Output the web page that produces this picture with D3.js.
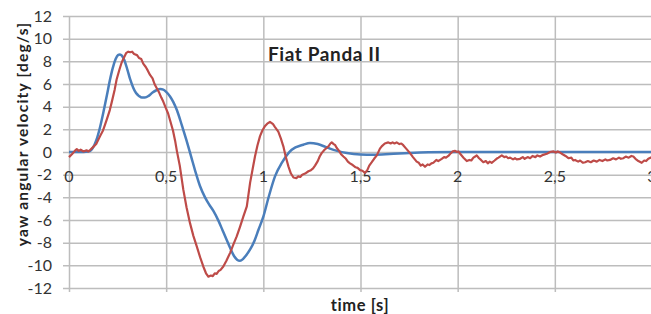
<!DOCTYPE html>
<html>
<head>
<meta charset="utf-8">
<script src="https://cdn.jsdelivr.net/npm/d3@7"></script>
<style>
  body { margin: 0; background: #fff; }
  svg { display: block; font-family: Lato, "Open Sans", sans-serif; }
</style>
</head>
<body>
<script>
// chart values
var title = "Fiat Panda II";
var xTicks = [0, 0.5, 1, 1.5, 2, 2.5, 3];
var yTicks = [-12, -10, -8, -6, -4, -2, 0, 2, 4, 6, 8, 10, 12];

// simulated yaw rate (blue)
var simTime = [0, 0.05, 0.1, 0.118, 0.13, 0.142, 0.16, 0.177, 0.195, 0.21, 0.225, 0.24, 0.252, 0.262, 0.272, 0.285,
  0.3, 0.315, 0.33, 0.345, 0.36, 0.375, 0.391, 0.41, 0.43, 0.45, 0.47, 0.485, 0.5, 0.52, 0.537, 0.555, 0.58, 0.605,
  0.63, 0.65, 0.674, 0.7, 0.72, 0.743, 0.77, 0.79, 0.81, 0.83, 0.85, 0.865, 0.88, 0.895, 0.91, 0.932, 0.955, 0.975,
  1.0, 1.026, 1.06, 1.095, 1.146, 1.206, 1.24, 1.28, 1.32, 1.343, 1.38, 1.43, 1.5, 1.566, 1.65, 1.75, 1.85, 2.0, 3.0];
var simYaw = [0, 0, 0.05, 0.25, 0.6, 1.1, 2.2, 3.5, 5.0, 6.3, 7.4, 8.2, 8.55, 8.6, 8.5, 8.1,
  7.3, 6.4, 5.7, 5.2, 4.95, 4.8, 4.8, 4.95, 5.25, 5.45, 5.55, 5.5, 5.3, 4.9, 4.4, 3.7, 2.4, 1.0,
  -0.5, -1.7, -3.0, -4.0, -4.6, -5.2, -6.1, -6.9, -7.7, -8.5, -9.2, -9.5, -9.6, -9.45, -9.15, -8.6, -7.8, -6.86,
  -5.7, -4.06, -2.15, -0.97, 0.2, 0.64, 0.8, 0.7, 0.45, 0.3, 0.1, -0.09, -0.22, -0.24, -0.18, -0.08, -0.02, 0, 0];

// measured yaw rate (red)
var measTime = [0, 0.015, 0.03, 0.04, 0.05, 0.06, 0.075, 0.09, 0.1, 0.11, 0.125, 0.14, 0.16, 0.175, 0.185, 0.195,
  0.21, 0.22, 0.235, 0.245, 0.26, 0.271, 0.285, 0.295, 0.305, 0.315, 0.325, 0.335, 0.35, 0.36, 0.372, 0.382, 0.395,
  0.405, 0.417, 0.43, 0.44, 0.451, 0.465, 0.475, 0.485, 0.5, 0.51, 0.52, 0.535, 0.546, 0.555, 0.57, 0.588, 0.605,
  0.623, 0.64, 0.657, 0.675, 0.691, 0.705, 0.717, 0.73, 0.74, 0.75, 0.76, 0.77, 0.78, 0.794, 0.81, 0.829, 0.845,
  0.863, 0.88, 0.897, 0.915, 0.932, 0.945, 0.957, 0.97, 0.983, 0.995, 1.009, 1.02, 1.034, 1.05, 1.06, 1.077, 1.09,
  1.103, 1.115, 1.129, 1.142, 1.155, 1.17, 1.18, 1.19, 1.2, 1.215, 1.232, 1.245, 1.256, 1.266, 1.28, 1.29, 1.3,
  1.315, 1.335, 1.345, 1.352, 1.362, 1.37, 1.378, 1.39, 1.4, 1.412, 1.425, 1.435, 1.446, 1.46, 1.475, 1.485, 1.498,
  1.51, 1.523, 1.535, 1.545, 1.558, 1.57, 1.584, 1.6, 1.609, 1.625, 1.643, 1.655, 1.665, 1.675, 1.686, 1.7, 1.71,
  1.72, 1.735, 1.745, 1.755, 1.77, 1.789, 1.8, 1.81, 1.82, 1.832, 1.845, 1.855, 1.865, 1.875, 1.89, 1.9, 1.918,
  1.93, 1.94, 1.952, 1.965, 1.975, 1.987, 1.995, 2.004, 2.015, 2.03, 2.047, 2.06, 2.07, 2.081, 2.09, 2.098, 2.11,
  2.12, 2.132, 2.145, 2.155, 2.165, 2.175, 2.19, 2.2, 2.21, 2.227, 2.24, 2.25, 2.26, 2.27, 2.285, 2.295, 2.304,
  2.321, 2.335, 2.345, 2.36, 2.373, 2.385, 2.4, 2.41, 2.424, 2.44, 2.459, 2.475, 2.493, 2.505, 2.515, 2.527, 2.54,
  2.555, 2.57, 2.585, 2.595, 2.604, 2.62, 2.63, 2.645, 2.656, 2.67, 2.685, 2.7, 2.716, 2.73, 2.745, 2.76, 2.77,
  2.784, 2.8, 2.815, 2.83, 2.84, 2.853, 2.865, 2.88, 2.894, 2.904, 2.915, 2.93, 2.947, 2.96, 2.97, 2.981, 3.0];
var measYaw = [-0.45, -0.2, 0.1, 0.25, 0.1, 0.2, 0.05, 0.15, 0.05, 0.2, 0.45, 0.7, 1.4, 1.9, 2.4, 2.9,
  3.7, 4.4, 5.5, 6.4, 7.3, 7.9, 8.4, 8.75, 8.85, 8.8, 8.85, 8.65, 8.55, 8.3, 8.2, 7.8, 7.5,
  7.2, 6.8, 6.5, 6.0, 5.65, 5.2, 4.8, 4.45, 3.8, 3.4, 2.8, 1.9, 1.0, 0.1, -1.2, -3.3, -4.9,
  -6.3, -7.4, -8.3, -9.3, -10.1, -10.7, -11.0, -10.9, -10.95, -10.7, -10.75, -10.5, -10.4, -10.1, -9.6, -8.9, -8.2,
  -7.45, -6.6, -5.7, -4.8, -2.7, -1.5, -0.4, 0.6, 1.4, 1.9, 2.3, 2.5, 2.65, 2.45, 2.2, 1.8, 1.2,
  0.5, -0.4, -1.27, -1.9, -2.25, -2.3, -2.15, -2.2, -2.0, -1.9, -1.7, -1.6, -1.45, -1.2, -0.8, -0.4, -0.1,
  0.2, 0.5, 0.75, 0.85, 0.7, 0.6, 0.35, 0.1, -0.2, -0.4, -0.6, -0.85, -1.0, -1.15, -1.35, -1.4, -1.6,
  -1.65, -1.85, -1.6, -1.2, -0.9, -0.6, -0.3, 0.3, 0.5, 0.75, 0.85, 0.75, 0.85, 0.75, 0.85, 0.7, 0.75,
  0.6, 0.3, 0.1, -0.1, -0.45, -0.85, -0.95, -1.2, -1.1, -1.3, -1.1, -1.15, -1.0, -0.95, -0.7, -0.8, -0.6,
  -0.45, -0.5, -0.35, -0.1, 0.05, 0.1, 0.0, 0.05, -0.2, -0.5, -0.8, -0.7, -0.75, -0.5, -0.4, -0.3, -0.55,
  -0.7, -0.9, -0.8, -1.0, -0.85, -0.95, -0.75, -0.6, -0.5, -0.3, -0.45, -0.4, -0.55, -0.5, -0.65, -0.55, -0.65,
  -0.6, -0.45, -0.6, -0.45, -0.55, -0.35, -0.45, -0.3, -0.4, -0.25, -0.15, 0.0, 0.05, -0.05, 0.05, -0.05, -0.2,
  -0.35, -0.55, -0.5, -0.75, -0.7, -0.85, -0.75, -0.95, -0.9, -0.8, -0.9, -0.75, -0.85, -0.7, -0.8, -0.65, -0.75,
  -0.7, -0.55, -0.65, -0.5, -0.6, -0.55, -0.4, -0.5, -0.35, -0.4, -0.6, -0.8, -0.95, -0.75, -0.8, -0.6, -0.45];

// plot area in page pixels (note: "top" is taken by window.top)
var width = 651, height = 314;
var plotLeft = 69, plotRight = 652, plotTop = 16, plotBottom = 288;

var svg = d3.select("body").append("svg")
    .attr("width", width)
    .attr("height", height);

var x = d3.scaleLinear().domain([0, 3]).range([plotLeft, plotRight]);
var y = d3.scaleLinear().domain([-12, 12]).range([plotBottom, plotTop]);

// horizontal gridlines + y labels
var yAxis = svg.append("g")
    .attr("transform", "translate(" + (plotLeft - 6) + ",0)")
    .call(d3.axisLeft(y).tickValues(yTicks).tickSize(-(plotRight - plotLeft + 6)).tickPadding(11)
      .tickFormat(function(d) { return d; }));

// vertical gridlines
var xAxis = svg.append("g")
    .attr("transform", "translate(0," + (plotBottom + 4) + ")")
    .call(d3.axisBottom(x).tickValues(xTicks).tickSize(-(plotBottom + 4 - plotTop)).tickFormat(""));

svg.selectAll(".domain").remove();
svg.selectAll(".tick line")
    .attr("stroke", "#bdbdbd")
    .attr("stroke-width", 1.5);
yAxis.selectAll("text")
    .attr("fill", "#333")
    .style("font-size", "16px")
    .style("font-family", "Lato, sans-serif");

// x labels sit just under the zero line, like Excel does
svg.append("g").selectAll("text")
    .data(xTicks)
  .enter().append("text")
    .attr("x", function(d) { return x(d); })
    .attr("y", y(0) + 30)
    .attr("text-anchor", "middle")
    .attr("fill", "#333")
    .style("font-size", "16px")
    .text(function(d) { return String(d).replace(".", ","); });

// lines
var line = d3.line()
    .x(function(d) { return x(d[0]); })
    .y(function(d) { return y(d[1]); });

svg.append("path")
    .datum(simTime.map(function(t, i) { return [t, simYaw[i]]; }))
    .attr("fill", "none")
    .attr("stroke", "#4a7ebb")
    .attr("stroke-width", 2.5)
    .attr("d", line.curve(d3.curveMonotoneX));

svg.append("path")
    .datum(measTime.map(function(t, i) { return [t, measYaw[i]]; }))
    .attr("fill", "none")
    .attr("stroke", "#be4b48")
    .attr("stroke-width", 2.2)
    .attr("stroke-linejoin", "round")
    .attr("d", line.curve(d3.curveLinear));

// title
svg.append("text")
    .attr("x", 268)
    .attr("y", 61)
    .attr("font-weight", "bold")
    .attr("fill", "#222")
    .style("font-size", "19px")
    .style("letter-spacing", "0.6px")
    .text(title);

// axis titles
svg.append("text")
    .attr("text-anchor", "middle")
    .attr("transform", "translate(360,311)")
    .attr("font-weight", "bold")
    .attr("fill", "#222")
    .style("font-size", "16.5px")
    .style("letter-spacing", "0.6px")
    .text("time [s]");

svg.append("text")
    .attr("text-anchor", "middle")
    .attr("transform", "translate(28,134)rotate(-90)")
    .attr("font-weight", "bold")
    .attr("fill", "#222")
    .style("font-size", "15.5px")
    .style("letter-spacing", "1.2px")
    .text("yaw angular velocity [deg/s]");
</script>
</body>
</html>
